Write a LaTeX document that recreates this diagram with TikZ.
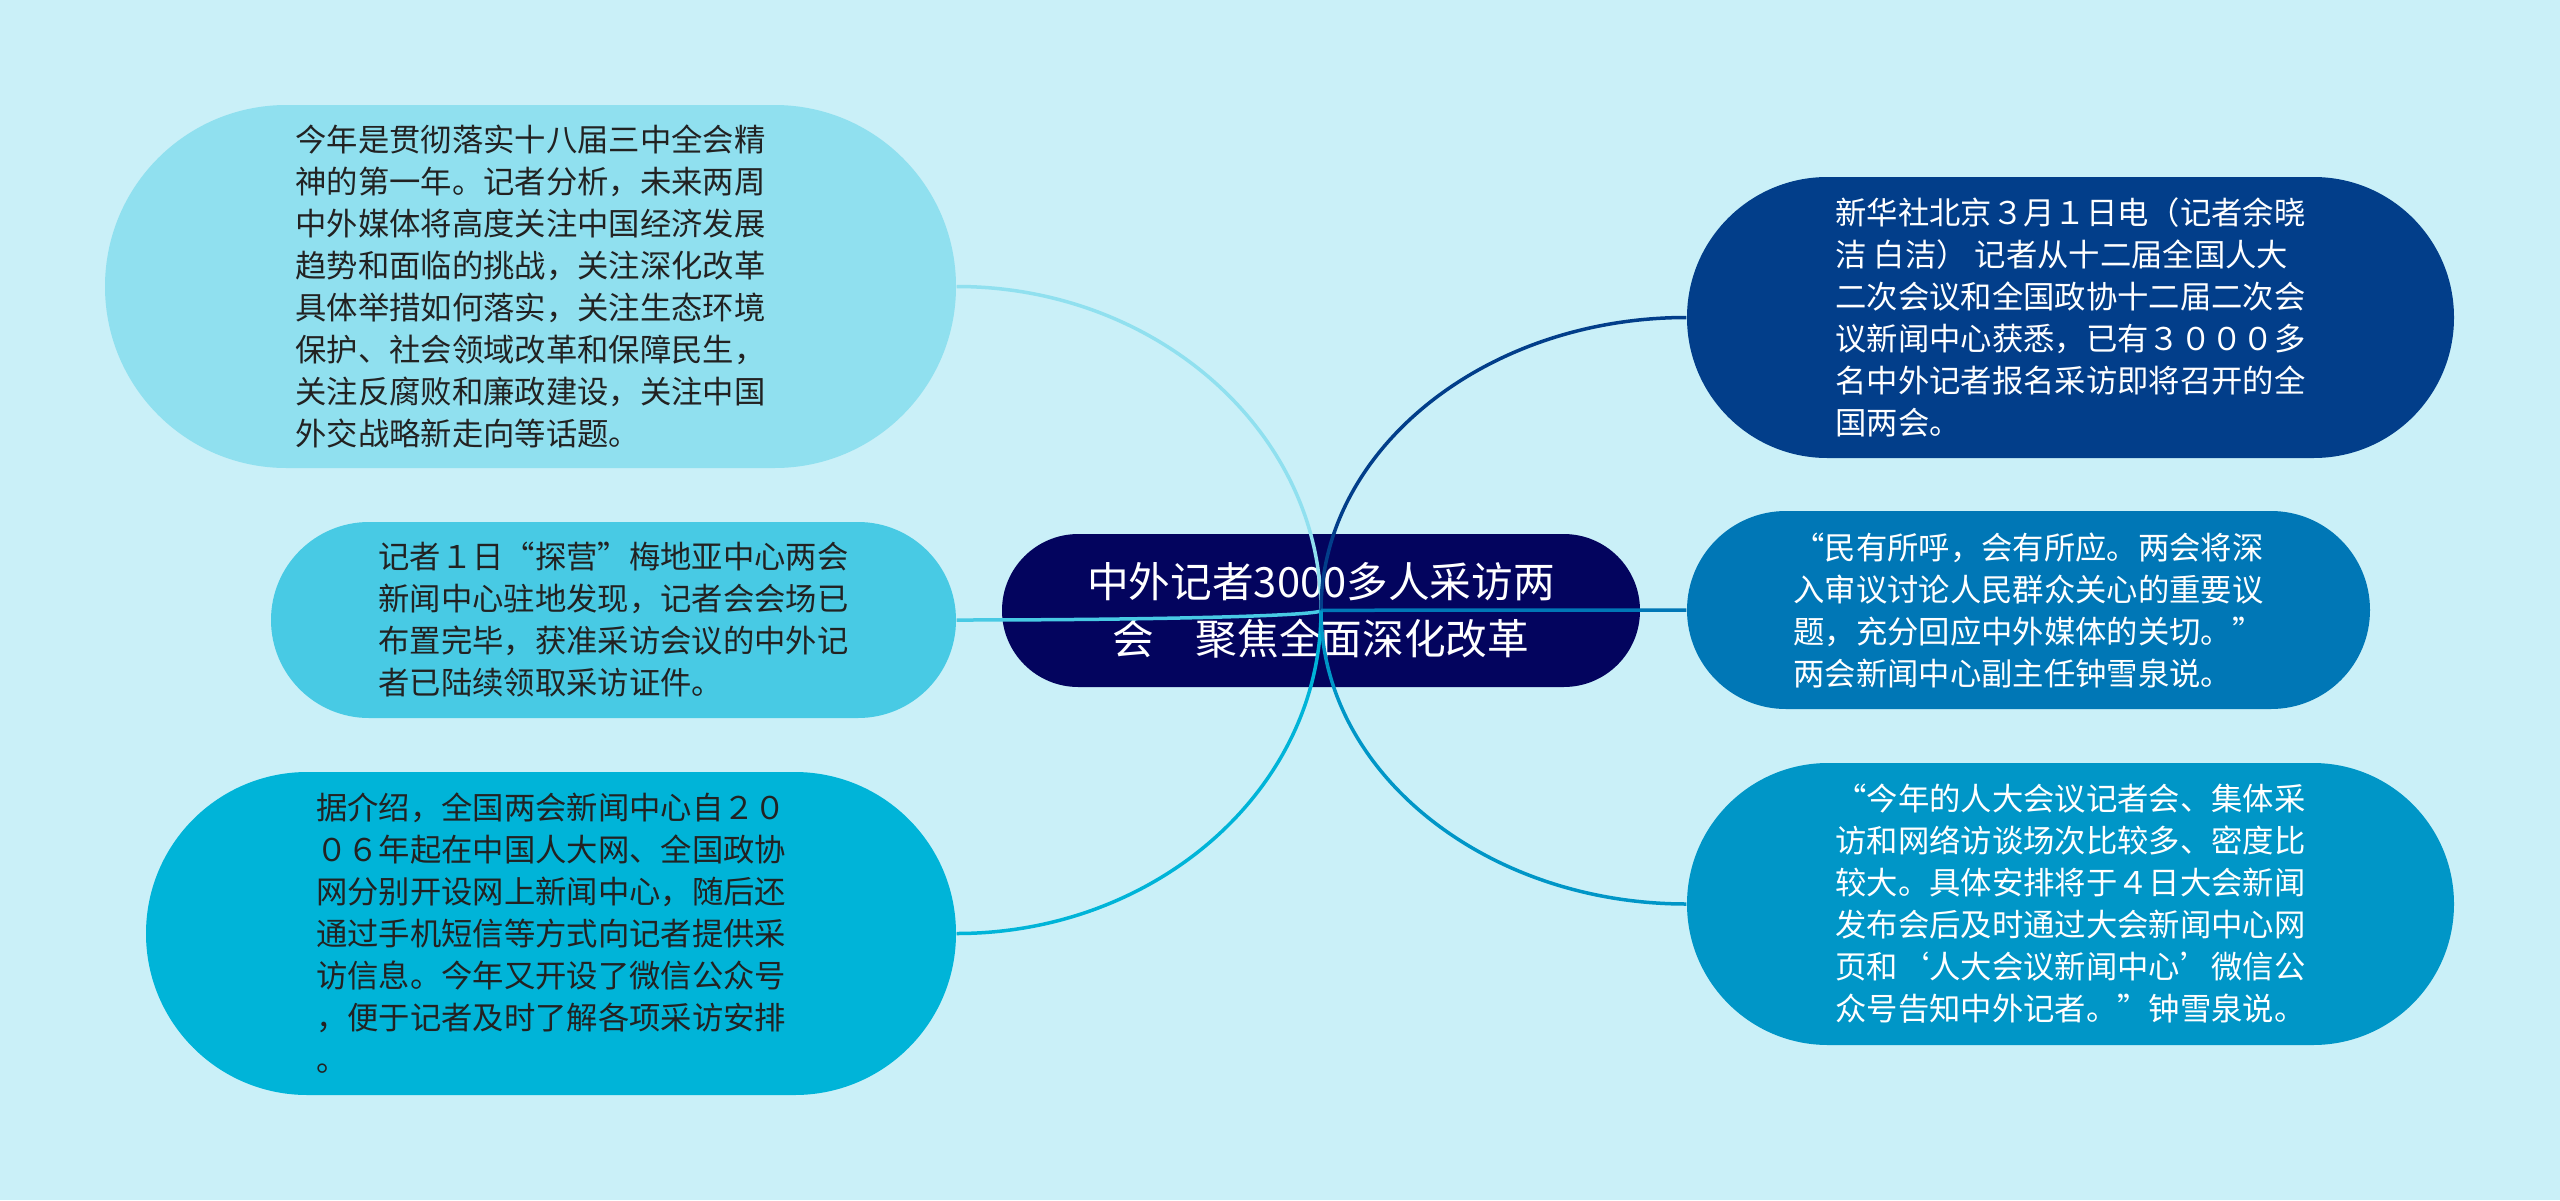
\documentclass[tikz,border=0pt]{standalone}
\usepackage{fontspec}
\setmainfont{Noto Sans CJK SC}
\usetikzlibrary{calc}
\definecolor{bgc}{HTML}{CAF0F8}
\definecolor{cA}{HTML}{90E0EF}
\definecolor{cB}{HTML}{48CAE4}
\definecolor{cC}{HTML}{00B4D8}
\definecolor{cD}{HTML}{0096C7}
\definecolor{cE}{HTML}{0077B6}
\definecolor{cF}{HTML}{023E8A}
\definecolor{cG}{HTML}{03045E}
\definecolor{darktext}{HTML}{222222}
\tikzset{
  pill/.style={rectangle, inner sep=0pt, align=left,
    font=\fontsize{9.4pt}{12.6pt}\selectfont},
  conn/.style={line width=1.05pt,
    to path={.. controls ($(\tikztostart)!0.55!(\tikztostart |- \tikztotarget)$) and ($(\tikztotarget)!0.55!(\tikztostart |- \tikztotarget)$) .. (\tikztotarget)}}
}
\begin{document}
\begin{tikzpicture}[x=0.3pt,y=-0.3pt]
\useasboundingbox (0,0) rectangle (2560,1200);
\fill[bgc] (0,0) rectangle (2560,1200);

% center
\node[rectangle, inner sep=0pt, fill=cG, text=white, align=center,
  minimum width=191.4pt, minimum height=45.9pt, rounded corners=22.9pt,
  font=\fontsize{12.5pt}{17.1pt}\selectfont] (c) at (1321,610.5)
  {中外记者3000多人采访两\\会\hspace{1em}聚焦全面深化改革};

% left nodes
\node[pill, fill=cA, text=darktext, minimum width=255.3pt, minimum height=108.9pt, rounded corners=54.4pt] (n1) at (530.5,286.5)
{今年是贯彻落实十八届三中全会精\\神的第一年。记者分析，未来两周\\中外媒体将高度关注中国经济发展\\趋势和面临的挑战，关注深化改革\\具体举措如何落实，关注生态环境\\保护、社会领域改革和保障民生，\\关注反腐败和廉政建设，关注中国\\外交战略新走向等话题。};

\node[pill, fill=cB, text=darktext, minimum width=205.5pt, minimum height=58.8pt, rounded corners=29.4pt] (n2) at (613.5,620)
{记者１日“探营”梅地亚中心两会\\新闻中心驻地发现，记者会会场已\\布置完毕，获准采访会议的中外记\\者已陆续领取采访证件。};

\node[pill, fill=cC, text=darktext, minimum width=243pt, minimum height=96.9pt, rounded corners=48.4pt] (n3) at (551,933.5)
{据介绍，全国两会新闻中心自２０\\０６年起在中国人大网、全国政协\\网分别开设网上新闻中心，随后还\\通过手机短信等方式向记者提供采\\访信息。今年又开设了微信公众号\\，便于记者及时了解各项采访安排\\。};

% right nodes
\node[pill, fill=cF, text=white, minimum width=230.1pt, minimum height=84.3pt, rounded corners=42.1pt] (n5) at (2070.5,317.5)
{新华社北京３月１日电（记者余晓\\洁 白洁） 记者从十二届全国人大\\二次会议和全国政协十二届二次会\\议新闻中心获悉，已有３０００多\\名中外记者报名采访即将召开的全\\国两会。};

\node[pill, fill=cE, text=white, minimum width=204.9pt, minimum height=59.4pt, rounded corners=29.7pt] (n6) at (2028.5,610)
{“民有所呼，会有所应。两会将深\\入审议讨论人民群众关心的重要议\\题，充分回应中外媒体的关切。”\\两会新闻中心副主任钟雪泉说。};

\node[pill, fill=cD, text=white, minimum width=230.1pt, minimum height=84.6pt, rounded corners=42.3pt] (n7) at (2070.5,904)
{“今年的人大会议记者会、集体采\\访和网络访谈场次比较多、密度比\\较大。具体安排将于４日大会新闻\\发布会后及时通过大会新闻中心网\\页和‘人大会议新闻中心’微信公\\众号告知中外记者。”钟雪泉说。};

% connectors
\draw[conn, cA] (c.center) to (n1.east);
\draw[conn, cB] (c.center) to (n2.east);
\draw[conn, cC] (c.center) to (n3.east);
\draw[conn, cF] (c.center) to (n5.west);
\draw[conn, cE] (c.center) to (n6.west);
\draw[conn, cD] (c.center) to (n7.west);
\end{tikzpicture}
\end{document}
